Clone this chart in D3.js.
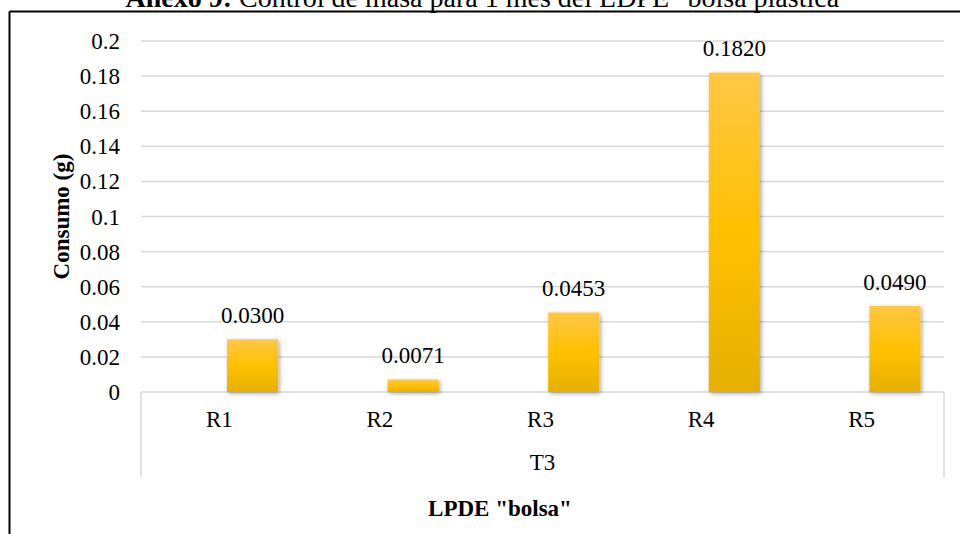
<!DOCTYPE html>
<html>
<head>
<meta charset="utf-8">
<script src="https://cdn.jsdelivr.net/npm/d3@7"></script>
<style>
  html, body { margin: 0; padding: 0; background: #fff; }
  svg { display: block; font-family: 'Liberation Serif', 'Times New Roman', 'DejaVu Serif', serif; }
</style>
</head>
<body>
<svg id="chart" width="960" height="534"></svg>
<script>
// ---- data ----
const categories = ["R1", "R2", "R3", "R4", "R5"];
const values = [0.0300, 0.0071, 0.0453, 0.1820, 0.0490];
const valueLabels = ["0.0300", "0.0071", "0.0453", "0.1820", "0.0490"];
const yTicks = [0, 0.02, 0.04, 0.06, 0.08, 0.1, 0.12, 0.14, 0.16, 0.18, 0.2];
const yTickLabels = ["0", "0.02", "0.04", "0.06", "0.08", "0.1", "0.12", "0.14", "0.16", "0.18", "0.2"];
const groupLabel = "T3";
const xTitle = 'LPDE "bolsa"';
const yTitle = "Consumo (g)";
const titleBold = "Anexo 9:";
const titleRest = " Control de masa para 1 mes del LDPE \"bolsa plástica\"";

// ---- layout ----
const FONT = "'Liberation Serif', 'Times New Roman', serif";
const svg = d3.select("#chart");
const plot = { left: 141, right: 944, top: 41, bottom: 392 };
const fs = 23;

const x = d3.scaleBand().domain(categories).range([plot.left, plot.right]).padding(0);
const y = d3.scaleLinear().domain([0, 0.2]).range([plot.bottom, plot.top]);

function txt(sel) {
  return sel.attr("font-family", FONT).attr("font-size", fs).attr("fill", "#000");
}

// defs: gradient + shadow
const defs = svg.append("defs");
const grad = defs.append("linearGradient").attr("id", "barGrad")
  .attr("x1", 0).attr("y1", 0).attr("x2", 0).attr("y2", 1);
grad.append("stop").attr("offset", "0%").attr("stop-color", "#ffc746");
grad.append("stop").attr("offset", "50%").attr("stop-color", "#ffc000");
grad.append("stop").attr("offset", "100%").attr("stop-color", "#e6b000");
const f = defs.append("filter").attr("id", "shadow")
  .attr("x", "-30%").attr("y", "-30%").attr("width", "160%").attr("height", "160%");
f.append("feDropShadow").attr("dx", 1.5).attr("dy", 1.5).attr("stdDeviation", 2)
  .attr("flood-color", "#000").attr("flood-opacity", 0.35);

// frame
svg.append("line").attr("x1", 9.5).attr("x2", 960).attr("y1", 11.5).attr("y2", 11.5)
  .attr("stroke", "#000").attr("stroke-width", 2);
svg.append("line").attr("x1", 9.5).attr("x2", 9.5).attr("y1", 11.5).attr("y2", 534)
  .attr("stroke", "#000").attr("stroke-width", 2);

// title (clipped at top, as in the reference)
const title = txt(svg.append("text")).attr("x", 488).attr("y", 7).attr("text-anchor", "middle")
  .attr("font-size", 28);
title.append("tspan").attr("font-weight", "bold").text(titleBold);
title.append("tspan").text(titleRest);

// gridlines
svg.append("g").selectAll("line").data(yTicks.slice(1)).join("line")
  .attr("x1", plot.left).attr("x2", plot.right)
  .attr("y1", d => y(d)).attr("y2", d => y(d))
  .attr("stroke", "#d9d9d9").attr("stroke-width", 1.5);

// y tick labels
txt(svg.append("g").selectAll("text").data(yTicks).join("text"))
  .attr("x", 120).attr("y", d => y(d)).attr("dy", "0.35em")
  .attr("text-anchor", "end")
  .text((d, i) => yTickLabels[i]);

// category axis box
const axisBottom = 477;
svg.append("line").attr("x1", plot.left).attr("x2", plot.right).attr("y1", plot.bottom).attr("y2", plot.bottom)
  .attr("stroke", "#d9d9d9").attr("stroke-width", 1.5);
[plot.left, plot.right].forEach(xx => {
  svg.append("line").attr("x1", xx).attr("x2", xx).attr("y1", plot.bottom).attr("y2", axisBottom)
    .attr("stroke", "#d9d9d9").attr("stroke-width", 1.5);
});

// bars
const bw = x.bandwidth();
const barStart = 0.5355, barWidthFrac = 0.318;
svg.append("g").selectAll("rect").data(values).join("rect")
  .attr("x", (d, i) => x(categories[i]) + bw * barStart)
  .attr("width", bw * barWidthFrac)
  .attr("y", d => y(d))
  .attr("height", d => y(0) - y(d))
  .attr("fill", "url(#barGrad)")
  .attr("filter", "url(#shadow)");

// value labels
txt(svg.append("g").selectAll("text").data(values).join("text"))
  .attr("x", (d, i) => x(categories[i]) + bw * (barStart + barWidthFrac / 2))
  .attr("y", d => y(d) - 16.5)
  .attr("text-anchor", "middle")
  .text((d, i) => valueLabels[i]);

// category labels
txt(svg.append("g").selectAll("text").data(categories).join("text"))
  .attr("x", d => x(d) + bw / 2 - 2).attr("y", 427)
  .attr("text-anchor", "middle")
  .text(d => d);

// group label
txt(svg.append("text")).attr("x", (plot.left + plot.right) / 2).attr("y", 470)
  .attr("text-anchor", "middle").text(groupLabel);

// x title
txt(svg.append("text")).attr("x", 500).attr("y", 516)
  .attr("text-anchor", "middle").attr("font-weight", "bold").text(xTitle);

// y title
txt(svg.append("text")).attr("transform", "translate(69," + ((plot.top + plot.bottom) / 2) + ") rotate(-90)")
  .attr("text-anchor", "middle").attr("font-weight", "bold").text(yTitle);
</script>
</body>
</html>
